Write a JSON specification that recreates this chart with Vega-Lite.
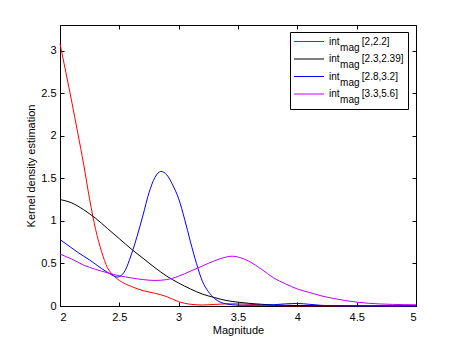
{
  "$schema": "https://vega.github.io/schema/vega-lite/v6.json",
  "width": 356,
  "height": 281,
  "autosize": {"type": "none"},
  "padding": {"left": 60, "top": 25, "right": 44, "bottom": 40},
  "config": {
    "font": "Liberation Sans",
    "view": {"stroke": "#000000", "strokeWidth": 1},
    "axis": {"labelFontSize": 11, "titleFontSize": 11, "titleFontWeight": "normal", "labelColor": "#000", "titleColor": "#000", "tickColor": "#000", "domain": false, "grid": false},
    "style": {"guide-label": {"lineHeight": 6}}
  },
  "data": {"values": [
    {"s": "[2,2.2]", "x": 2.00, "y": 3.08},
    {"s": "[2,2.2]", "x": 2.05, "y": 2.74},
    {"s": "[2,2.2]", "x": 2.10, "y": 2.39},
    {"s": "[2,2.2]", "x": 2.15, "y": 2.03},
    {"s": "[2,2.2]", "x": 2.20, "y": 1.66},
    {"s": "[2,2.2]", "x": 2.25, "y": 1.25},
    {"s": "[2,2.2]", "x": 2.30, "y": 0.90},
    {"s": "[2,2.2]", "x": 2.35, "y": 0.64},
    {"s": "[2,2.2]", "x": 2.40, "y": 0.45},
    {"s": "[2,2.2]", "x": 2.45, "y": 0.36},
    {"s": "[2,2.2]", "x": 2.50, "y": 0.30},
    {"s": "[2,2.2]", "x": 2.55, "y": 0.26},
    {"s": "[2,2.2]", "x": 2.60, "y": 0.23},
    {"s": "[2,2.2]", "x": 2.70, "y": 0.18},
    {"s": "[2,2.2]", "x": 2.80, "y": 0.15},
    {"s": "[2,2.2]", "x": 2.90, "y": 0.11},
    {"s": "[2,2.2]", "x": 3.00, "y": 0.05},
    {"s": "[2,2.2]", "x": 3.10, "y": 0.02},
    {"s": "[2,2.2]", "x": 3.20, "y": 0.012},
    {"s": "[2,2.2]", "x": 3.30, "y": 0.018},
    {"s": "[2,2.2]", "x": 3.40, "y": 0.025},
    {"s": "[2,2.2]", "x": 3.50, "y": 0.025},
    {"s": "[2,2.2]", "x": 3.60, "y": 0.02},
    {"s": "[2,2.2]", "x": 3.70, "y": 0.012},
    {"s": "[2,2.2]", "x": 3.80, "y": 0.006},
    {"s": "[2,2.2]", "x": 3.90, "y": 0.003},
    {"s": "[2,2.2]", "x": 4.00, "y": 0.002},
    {"s": "[2,2.2]", "x": 4.50, "y": 0.0},
    {"s": "[2,2.2]", "x": 5.00, "y": 0.0},

    {"s": "[2.3,2.39]", "x": 2.00, "y": 1.25},
    {"s": "[2.3,2.39]", "x": 2.10, "y": 1.21},
    {"s": "[2.3,2.39]", "x": 2.20, "y": 1.13},
    {"s": "[2.3,2.39]", "x": 2.30, "y": 1.03},
    {"s": "[2.3,2.39]", "x": 2.40, "y": 0.91},
    {"s": "[2.3,2.39]", "x": 2.50, "y": 0.79},
    {"s": "[2.3,2.39]", "x": 2.60, "y": 0.67},
    {"s": "[2.3,2.39]", "x": 2.70, "y": 0.56},
    {"s": "[2.3,2.39]", "x": 2.80, "y": 0.45},
    {"s": "[2.3,2.39]", "x": 2.90, "y": 0.35},
    {"s": "[2.3,2.39]", "x": 3.00, "y": 0.27},
    {"s": "[2.3,2.39]", "x": 3.10, "y": 0.20},
    {"s": "[2.3,2.39]", "x": 3.20, "y": 0.14},
    {"s": "[2.3,2.39]", "x": 3.30, "y": 0.10},
    {"s": "[2.3,2.39]", "x": 3.40, "y": 0.065},
    {"s": "[2.3,2.39]", "x": 3.50, "y": 0.045},
    {"s": "[2.3,2.39]", "x": 3.60, "y": 0.03},
    {"s": "[2.3,2.39]", "x": 3.70, "y": 0.02},
    {"s": "[2.3,2.39]", "x": 3.80, "y": 0.012},
    {"s": "[2.3,2.39]", "x": 3.90, "y": 0.008},
    {"s": "[2.3,2.39]", "x": 4.00, "y": 0.006},
    {"s": "[2.3,2.39]", "x": 4.20, "y": 0.003},
    {"s": "[2.3,2.39]", "x": 4.50, "y": 0.001},
    {"s": "[2.3,2.39]", "x": 5.00, "y": 0.0},

    {"s": "[2.8,3.2]", "x": 2.00, "y": 0.78},
    {"s": "[2.8,3.2]", "x": 2.05, "y": 0.73},
    {"s": "[2.8,3.2]", "x": 2.10, "y": 0.68},
    {"s": "[2.8,3.2]", "x": 2.15, "y": 0.63},
    {"s": "[2.8,3.2]", "x": 2.20, "y": 0.585},
    {"s": "[2.8,3.2]", "x": 2.25, "y": 0.54},
    {"s": "[2.8,3.2]", "x": 2.30, "y": 0.49},
    {"s": "[2.8,3.2]", "x": 2.35, "y": 0.44},
    {"s": "[2.8,3.2]", "x": 2.40, "y": 0.395},
    {"s": "[2.8,3.2]", "x": 2.45, "y": 0.355},
    {"s": "[2.8,3.2]", "x": 2.48, "y": 0.34},
    {"s": "[2.8,3.2]", "x": 2.50, "y": 0.345},
    {"s": "[2.8,3.2]", "x": 2.55, "y": 0.42},
    {"s": "[2.8,3.2]", "x": 2.60, "y": 0.60},
    {"s": "[2.8,3.2]", "x": 2.65, "y": 0.82},
    {"s": "[2.8,3.2]", "x": 2.70, "y": 1.07},
    {"s": "[2.8,3.2]", "x": 2.75, "y": 1.33},
    {"s": "[2.8,3.2]", "x": 2.80, "y": 1.51},
    {"s": "[2.8,3.2]", "x": 2.85, "y": 1.58},
    {"s": "[2.8,3.2]", "x": 2.90, "y": 1.54},
    {"s": "[2.8,3.2]", "x": 2.95, "y": 1.42},
    {"s": "[2.8,3.2]", "x": 3.00, "y": 1.26},
    {"s": "[2.8,3.2]", "x": 3.05, "y": 1.02},
    {"s": "[2.8,3.2]", "x": 3.10, "y": 0.75},
    {"s": "[2.8,3.2]", "x": 3.15, "y": 0.50},
    {"s": "[2.8,3.2]", "x": 3.20, "y": 0.29},
    {"s": "[2.8,3.2]", "x": 3.25, "y": 0.17},
    {"s": "[2.8,3.2]", "x": 3.30, "y": 0.09},
    {"s": "[2.8,3.2]", "x": 3.35, "y": 0.045},
    {"s": "[2.8,3.2]", "x": 3.40, "y": 0.025},
    {"s": "[2.8,3.2]", "x": 3.50, "y": 0.01},
    {"s": "[2.8,3.2]", "x": 3.60, "y": 0.008},
    {"s": "[2.8,3.2]", "x": 3.70, "y": 0.01},
    {"s": "[2.8,3.2]", "x": 3.80, "y": 0.015},
    {"s": "[2.8,3.2]", "x": 3.90, "y": 0.025},
    {"s": "[2.8,3.2]", "x": 4.00, "y": 0.03},
    {"s": "[2.8,3.2]", "x": 4.10, "y": 0.02},
    {"s": "[2.8,3.2]", "x": 4.20, "y": 0.008},
    {"s": "[2.8,3.2]", "x": 4.30, "y": 0.003},
    {"s": "[2.8,3.2]", "x": 4.50, "y": 0.0},
    {"s": "[2.8,3.2]", "x": 5.00, "y": 0.0},

    {"s": "[3.3,5.6]", "x": 2.00, "y": 0.61},
    {"s": "[3.3,5.6]", "x": 2.10, "y": 0.55},
    {"s": "[3.3,5.6]", "x": 2.20, "y": 0.48},
    {"s": "[3.3,5.6]", "x": 2.30, "y": 0.43},
    {"s": "[3.3,5.6]", "x": 2.40, "y": 0.39},
    {"s": "[3.3,5.6]", "x": 2.50, "y": 0.355},
    {"s": "[3.3,5.6]", "x": 2.60, "y": 0.33},
    {"s": "[3.3,5.6]", "x": 2.70, "y": 0.31},
    {"s": "[3.3,5.6]", "x": 2.80, "y": 0.30},
    {"s": "[3.3,5.6]", "x": 2.90, "y": 0.31},
    {"s": "[3.3,5.6]", "x": 3.00, "y": 0.35},
    {"s": "[3.3,5.6]", "x": 3.10, "y": 0.41},
    {"s": "[3.3,5.6]", "x": 3.20, "y": 0.47},
    {"s": "[3.3,5.6]", "x": 3.30, "y": 0.53},
    {"s": "[3.3,5.6]", "x": 3.40, "y": 0.575},
    {"s": "[3.3,5.6]", "x": 3.45, "y": 0.585},
    {"s": "[3.3,5.6]", "x": 3.50, "y": 0.575},
    {"s": "[3.3,5.6]", "x": 3.60, "y": 0.52},
    {"s": "[3.3,5.6]", "x": 3.70, "y": 0.43},
    {"s": "[3.3,5.6]", "x": 3.80, "y": 0.33},
    {"s": "[3.3,5.6]", "x": 3.90, "y": 0.26},
    {"s": "[3.3,5.6]", "x": 4.00, "y": 0.20},
    {"s": "[3.3,5.6]", "x": 4.10, "y": 0.16},
    {"s": "[3.3,5.6]", "x": 4.20, "y": 0.12},
    {"s": "[3.3,5.6]", "x": 4.30, "y": 0.09},
    {"s": "[3.3,5.6]", "x": 4.40, "y": 0.065},
    {"s": "[3.3,5.6]", "x": 4.50, "y": 0.045},
    {"s": "[3.3,5.6]", "x": 4.60, "y": 0.032},
    {"s": "[3.3,5.6]", "x": 4.70, "y": 0.024},
    {"s": "[3.3,5.6]", "x": 4.80, "y": 0.019},
    {"s": "[3.3,5.6]", "x": 4.90, "y": 0.016},
    {"s": "[3.3,5.6]", "x": 5.00, "y": 0.014}
  ]},
  "layer": [
    {
      "mark": {"type": "line", "strokeWidth": 1, "interpolate": "monotone"},
      "encoding": {
        "x": {"field": "x", "type": "quantitative", "scale": {"domain": [2, 5], "nice": false, "zero": false},
              "axis": {"orient": "bottom", "values": [2, 2.5, 3, 3.5, 4, 4.5, 5], "format": "~g", "tickSize": -4, "labelPadding": 9, "title": "Magnitude", "titlePadding": 2}},
        "y": {"field": "y", "type": "quantitative", "scale": {"domain": [0, 3.3], "nice": false},
              "axis": {"orient": "left", "values": [0, 0.5, 1, 1.5, 2, 2.5, 3], "format": "~g", "tickSize": -4, "labelPadding": 8, "title": "Kernel density estimation", "titlePadding": 4}},
        "color": {"field": "s", "type": "nominal",
                  "scale": {"domain": ["[2,2.2]", "[2.3,2.39]", "[2.8,3.2]", "[3.3,5.6]"], "range": ["#ff0000", "#000000", "#0000ff", "#bf00ff"]},
                  "legend": {"orient": "none", "legendX": 230, "legendY": 7, "title": null,
                             "strokeColor": "#000000", "fillColor": "#ffffff", "padding": 4,
                             "symbolType": "M-1.1,0H4.9", "symbolSize": 100, "symbolStrokeWidth": 1,
                             "labelFontSize": 10, "labelColor": "#000", "labelOffset": 24, "rowPadding": 0.5,
                             "labelExpr": "['int\u00a0\u00a0\u00a0\u00a0\u00a0\u00a0\u00a0\u00a0' + datum.label, '\u200b\u00a0\u00a0\u00a0\u00a0mag']",
                             "encode": {"labels": {"update": {"lineHeight": {"value": 6}}}}}}
      }
    },
    {
      "mark": {"type": "point", "opacity": 0},
      "encoding": {
        "x": {"field": "x", "type": "quantitative",
              "axis": {"orient": "top", "values": [2, 2.5, 3, 3.5, 4, 4.5, 5], "labels": false, "tickSize": -4, "title": null}},
        "y": {"field": "y", "type": "quantitative",
              "axis": {"orient": "right", "values": [0, 0.5, 1, 1.5, 2, 2.5, 3], "labels": false, "tickSize": -4, "title": null}}
      }
    }
  ],
  "resolve": {"axis": {"x": "independent", "y": "independent"}}
}
